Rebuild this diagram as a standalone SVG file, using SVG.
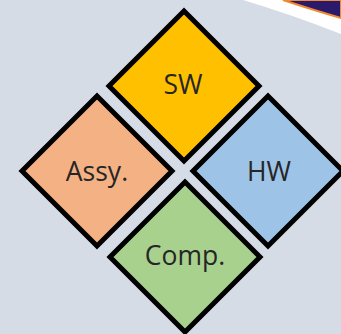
<svg xmlns="http://www.w3.org/2000/svg" width="341" height="334" viewBox="0 0 341 334">
<style>
.d{stroke:#000;stroke-width:5;stroke-linejoin:miter}
.t{font-family:"Open Sans","Noto Sans",sans-serif;font-size:26.5px;fill:#262626;text-anchor:middle}
</style>
<rect width="341" height="334" fill="#d6dce5"/>
<g id="swoosh">
<path d="M243,0 Q290,14 341,34 L341,0 Z" fill="#ffffff"/>
<path d="M283,0 Q310,9 341,18 L341,0 Z" fill="#2b1a6b" stroke="#f08a30" stroke-width="2"/>
</g>
<g id="connectors"></g>
<g id="sw"><path class="d" d="M184,11 L259,86 L184,161 L109,86 Z" fill="#ffc000"/><text class="t" x="183" y="94">SW</text></g>
<g id="assy"><path class="d" d="M97,96 L172,171 L97,246 L22,171 Z" fill="#f4b183"/><text class="t" x="97" y="181">Assy.</text></g>
<g id="hw"><path class="d" d="M268,96 L343,171 L268,246 L193,171 Z" fill="#9dc3e6"/><text class="t" x="269" y="181">HW</text></g>
<g id="comp"><path class="d" d="M185,182 L260,257 L185,332 L110,257 Z" fill="#a9d18e"/><text class="t" x="185" y="265">Comp.</text></g>
</svg>
